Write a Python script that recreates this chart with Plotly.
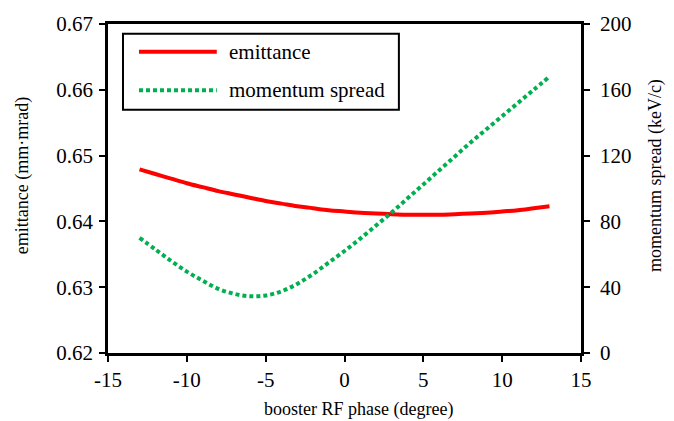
import plotly.graph_objects as go

# booster RF phase scan (degree)
phase = [-13, -12, -11, -10, -9, -8, -7, -6, -5, -4, -3, -2, -1, 0,
         1, 2, 3, 4, 5, 6, 7, 8, 9, 10, 11, 12, 13]

# transverse emittance (mm·mrad)
emittance = [0.6479, 0.6472, 0.6465, 0.6458, 0.6452, 0.6446, 0.6441, 0.6436,
             0.6431, 0.6427, 0.6423, 0.6420, 0.6417, 0.6415, 0.6413, 0.6412,
             0.6411, 0.6410, 0.6410, 0.6410, 0.6411, 0.6412, 0.6413, 0.6415,
             0.6417, 0.6420, 0.6423]

# momentum spread (keV/c)
momentum_spread = [70, 63, 56, 49.5, 44, 39, 36, 34.5, 35, 37.5, 42, 48, 55, 62,
                   69.5, 77.5, 85.5, 94, 102.5, 111, 119.5, 128, 136, 144, 152,
                   160, 168]

series_names = ["emittance", "momentum spread"]

x_ticks = [-15, -10, -5, 0, 5, 10, 15]
x_ticktext = ["-15", "-10", "-5", "0", "5", "10", "15"]
y_ticks = [0.62, 0.63, 0.64, 0.65, 0.66, 0.67]
y2_ticks = [0, 40, 80, 120, 160, 200]

x_title = "booster RF phase (degree)"
y_title = "emittance (mm·mrad)"
y2_title = "momentum spread (keV/c)"

RED = "#FF0000"
GREEN = "#00B050"
FONT = "Liberation Serif"
TICK_SIZE = 21
TITLE_SIZE = 18

fig = go.Figure()
fig.add_trace(go.Scatter(x=phase, y=emittance, mode="lines", name=series_names[0],
                         line=dict(color=RED, width=4, shape="spline"),
                         yaxis="y"))
fig.add_trace(go.Scatter(x=phase, y=momentum_spread, mode="lines", name=series_names[1],
                         line=dict(color=GREEN, width=4, dash="4px,3px", shape="spline"),
                         yaxis="y2"))

axis_common = dict(showline=True, linecolor="black", linewidth=2.5,
                   ticks="outside", ticklen=6, tickwidth=2, tickcolor="black",
                   showgrid=False, zeroline=False,
                   tickfont=dict(family=FONT, size=TICK_SIZE, color="black"))

fig.update_layout(
    width=674, height=421,
    margin=dict(l=108, r=93, t=19, b=68),
    paper_bgcolor="white", plot_bgcolor="white",
    showlegend=False,
    font=dict(family=FONT, color="black"),
    xaxis=dict(range=[-15, 15], tickmode="array", tickvals=x_ticks, ticktext=x_ticktext,
               mirror=True, ticklabelstandoff=0, **axis_common),
    yaxis=dict(range=[0.62, 0.67], tickmode="array", tickvals=y_ticks, tickformat=".2f",
               ticklabelstandoff=2, **axis_common),
    yaxis2=dict(range=[0, 200], tickmode="array", tickvals=y2_ticks,
                overlaying="y", side="right", ticklabelstandoff=6, **axis_common),
)

# axis titles placed in paper coordinates
title_font = dict(family=FONT, size=TITLE_SIZE, color="black")
fig.add_annotation(xref="paper", yref="paper", x=0.5296, y=-0.171, text=x_title,
                   showarrow=False, xanchor="center", yanchor="middle", font=title_font)
fig.add_annotation(xref="paper", yref="paper", x=-0.182, y=0.54, text=y_title, textangle=-90,
                   showarrow=False, xanchor="center", yanchor="middle", font=title_font)
fig.add_annotation(xref="paper", yref="paper", x=1.158, y=0.54, text=y2_title, textangle=-90,
                   showarrow=False, xanchor="center", yanchor="middle", font=title_font)

# legend box drawn in plot-area coordinates
fig.add_shape(type="rect", xref="paper", yref="paper", x0=0.0317, x1=0.615, y0=0.7395, y1=0.970,
              line=dict(color="black", width=2), fillcolor="white", layer="above")
legend_rows = [(0.916, RED, "solid"), (0.799, GREEN, "4px,3px")]
for (yy, col, dash), name in zip(legend_rows, series_names):
    fig.add_shape(type="line", xref="paper", yref="paper", x0=0.0655, x1=0.230, y0=yy, y1=yy,
                  line=dict(color=col, width=4, dash=dash), layer="above")
    fig.add_annotation(xref="paper", yref="paper", x=0.2516, y=yy, text=name, showarrow=False,
                       xanchor="left", yanchor="middle",
                       font=dict(family=FONT, size=TICK_SIZE, color="black"))

fig.write_html("out.html")
